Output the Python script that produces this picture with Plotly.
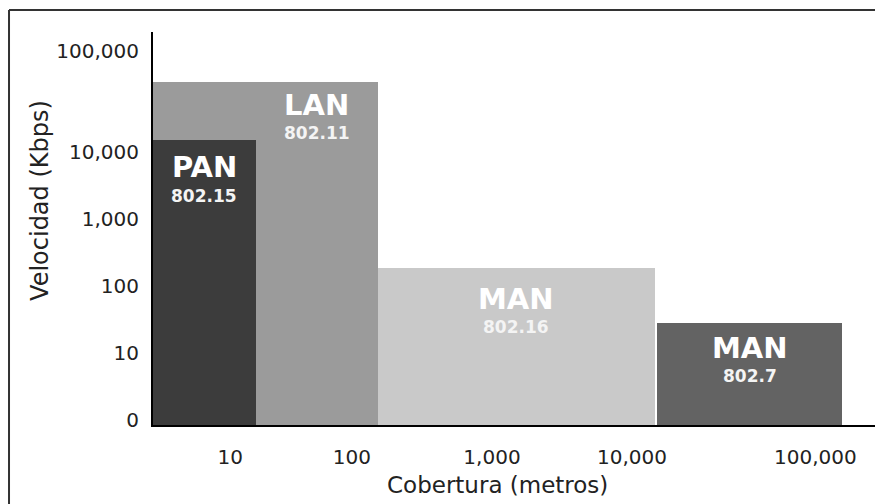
import plotly.graph_objects as go

# ---- data (axis units: coverage decades / speed decades as drawn) ----
x_tick_labels = ["10", "100", "1,000", "10,000", "100,000"]
x_tick_pos = [1.13, 2.0, 3.0, 4.0, 5.31]
y_tick_labels = ["0", "10", "100", "1,000", "10,000", "100,000"]
y_tick_pos = [0, 1, 2, 3, 4, 5.5]

net_names = ["LAN", "PAN", "MAN", "MAN"]
net_standards = ["802.11", "802.15", "802.16", "802.7"]
cov_start = [0.579, 0.579, 2.186, 4.179]
cov_end = [2.186, 1.314, 4.164, 5.50]
speed_top = [5.05, 4.17, 2.26, 1.44]
bar_colors = ["#9b9b9b", "#3c3c3c", "#c9c9c9", "#636363"]

Y_MIN, Y_MAX = -0.08, 5.79
X_MIN, X_MAX = 0.579, 5.757

fig = go.Figure()
for n, s, a, b, t, c in zip(net_names, net_standards, cov_start, cov_end, speed_top, bar_colors):
    fig.add_trace(go.Bar(
        x=[(a + b) / 2], width=[b - a], y=[t - Y_MIN], base=[Y_MIN],
        marker=dict(color=c, line=dict(width=0)), showlegend=False, hoverinfo="skip",
    ))

# labels inside bars (label centred in visible part of bar)
label_centers = [(a + b) / 2 for a, b in zip(cov_start, cov_end)]
# LAN is partly hidden behind PAN: centre over its visible part
label_centers[0] = (cov_end[1] + cov_end[0]) / 2

name_shift = [-23, -27, -31, -25]
std_shift = [-51, -56, -59, -53]
for i in range(len(net_names)):
    fig.add_annotation(x=label_centers[i], y=speed_top[i], xref="x", yref="y",
                       text="<b>%s</b>" % net_names[i], showarrow=False,
                       yshift=name_shift[i], yanchor="middle",
                       font=dict(family="DejaVu Sans", size=29, color="white"))
    fig.add_annotation(x=label_centers[i], y=speed_top[i], xref="x", yref="y",
                       text="<b>%s</b>" % net_standards[i], showarrow=False,
                       yshift=std_shift[i], yanchor="middle",
                       font=dict(family="DejaVu Sans", size=17, color="#f4f4f4"))

# axis titles
fig.add_annotation(x=-0.156, y=0.5725, xref="paper", yref="paper", text="Velocidad (Kbps)",
                   textangle=-90, showarrow=False, xanchor="center", yanchor="middle",
                   font=dict(family="DejaVu Sans", size=24, color="#222"))
fig.add_annotation(x=0.4745, y=-0.1527, xref="paper", yref="paper", text="Cobertura (metros)",
                   showarrow=False, xanchor="center", yanchor="middle",
                   font=dict(family="DejaVu Sans", size=23, color="#222"))

# outer frame (top and left edges)
fig.add_shape(type="line", xref="paper", yref="paper", x0=-0.1986, x1=1.02, y0=1.056, y1=1.056,
              line=dict(color="#333", width=2))
fig.add_shape(type="line", xref="paper", yref="paper", x0=-0.1986, x1=-0.1986, y0=1.056, y1=-0.25,
              line=dict(color="#333", width=2))

# page body has an 8px margin: figure sized/margined to sit where the reference does
fig.update_layout(
    width=875, height=496,
    margin=dict(l=145, r=5, t=24, b=79),
    plot_bgcolor="white", paper_bgcolor="white",
    bargap=0, barmode="overlay",
    font=dict(family="DejaVu Sans", size=20, color="#222"),
)
fig.update_xaxes(range=[X_MIN, X_MAX], tickvals=x_tick_pos, ticktext=x_tick_labels,
                 showgrid=False, zeroline=False, showline=True, linecolor="black", linewidth=2,
                 ticks="", ticklabelstandoff=13, tickfont=dict(size=20, color="#222"))
fig.update_yaxes(range=[Y_MIN, Y_MAX], tickvals=y_tick_pos, ticktext=y_tick_labels,
                 showgrid=False, zeroline=False, showline=True, linecolor="black", linewidth=2,
                 ticks="", ticklabelstandoff=8, tickfont=dict(size=20, color="#222"))

fig.write_html("out.html")
